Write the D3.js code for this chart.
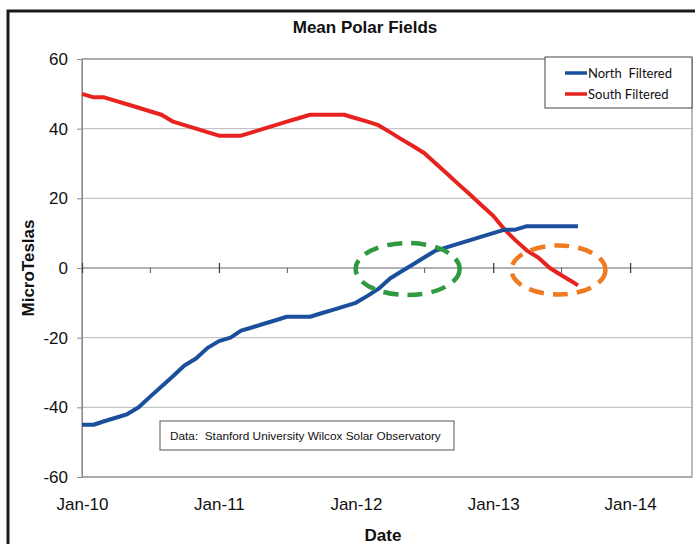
<!DOCTYPE html>
<html>
<head>
<meta charset="utf-8">
<script src="https://cdn.jsdelivr.net/npm/d3@7"></script>
<style>
  body { margin: 0; background: #fff; }
  svg { display: block; }
</style>
</head>
<body>
<script>
(function() {
    var w = 695;
    var h = 544;

    // monthly readings, mid-Aug 2013 is the last one
    var dates = ["2010-01-01","2010-02-01","2010-03-01","2010-04-01","2010-05-01","2010-06-01",
                 "2010-07-01","2010-08-01","2010-09-01","2010-10-01","2010-11-01","2010-12-01",
                 "2011-01-01","2011-02-01","2011-03-01","2011-04-01","2011-05-01","2011-06-01",
                 "2011-07-01","2011-08-01","2011-09-01","2011-10-01","2011-11-01","2011-12-01",
                 "2012-01-01","2012-02-01","2012-03-01","2012-04-01","2012-05-01","2012-06-01",
                 "2012-07-01","2012-08-01","2012-09-01","2012-10-01","2012-11-01","2012-12-01",
                 "2013-01-01","2013-02-01","2013-03-01","2013-04-01","2013-05-01","2013-06-01",
                 "2013-07-01","2013-08-01","2013-08-15"];
    var north = [-45,-45,-44,-43,-42,-40,-37,-34,-31,-28,-26,-23,
                 -21,-20,-18,-17,-16,-15,-14,-14,-14,-13,-12,-11,
                 -10,-8,-6,-3,-1,1,3,5,6,7,8,9,
                 10,11,11,12,12,12,12,12,12];
    var south = [50,49,49,48,47,46,45,44,42,41,40,39,
                 38,38,38,39,40,41,42,43,44,44,44,44,
                 43,42,41,39,37,35,33,30,27,24,21,18,
                 15,11,8,5,3,0,-2,-4,-5];
    var yTicks = [-60, -40, -20, 0, 20, 40, 60];
    var yearTicks = ["2010-01-01","2011-01-01","2012-01-01","2013-01-01","2014-01-01"];
    var halfTicks = ["2010-07-01","2011-07-01","2012-07-01","2013-07-01"];
    var seriesNames = ["North  Filtered", "South Filtered"];

    var parse = d3.timeParse("%Y-%m-%d");
    var left = 82, right = 692, top = 59, bottom = 477;

    var svg = d3.select("body").append("svg")
        .attr("width", w)
        .attr("height", h);

    // outer frame (left + top edges only show)
    svg.append("path")
        .attr("d", "M8,544 L8,11 L695,11")
        .attr("fill", "none")
        .attr("stroke", "#1a1a1a")
        .attr("stroke-width", 3);

    var x = d3.scaleTime()
        .domain([parse("2010-01-01"), parse("2014-06-15")])
        .range([left, right]);
    var y = d3.scaleLinear()
        .domain([-60, 60])
        .range([bottom, top]);

    // gridlines
    svg.append("g").selectAll("line")
        .data(yTicks.filter(function(d) { return d != 0; }))
        .enter().append("line")
        .attr("x1", left).attr("x2", right)
        .attr("y1", function(d) { return y(d); })
        .attr("y2", function(d) { return y(d); })
        .attr("stroke", "#b8b8b8")
        .attr("stroke-width", 1);

    // plot border
    svg.append("rect")
        .attr("x", left).attr("y", top)
        .attr("width", right - left).attr("height", bottom - top)
        .attr("fill", "none")
        .attr("stroke", "#8a8a8a")
        .attr("stroke-width", 1.2);

    // y axis (plain hyphen for negatives, like the original)
    var yAxis = svg.append("g")
        .attr("transform", "translate(" + left + ",0)")
        .call(d3.axisLeft(y).tickValues(yTicks).tickSize(5).tickPadding(9)
            .tickFormat(function(d) { return String(d); }));
    yAxis.select(".domain").attr("stroke", "#8a8a8a");
    yAxis.selectAll(".tick line").attr("stroke", "#8a8a8a");
    yAxis.selectAll("text")
        .attr("font-family", "'Liberation Sans', Arial, sans-serif")
        .attr("font-size", 17)
        .attr("fill", "#111");

    // x labels along the bottom
    var xAxis = svg.append("g")
        .attr("transform", "translate(0," + bottom + ")")
        .call(d3.axisBottom(x)
            .tickValues(yearTicks.map(parse))
            .tickSize(0).tickPadding(21)
            .tickFormat(d3.timeFormat("%b-%y")));
    xAxis.select(".domain").remove();
    xAxis.selectAll("text")
        .attr("font-family", "'Liberation Sans', Arial, sans-serif")
        .attr("font-size", 17)
        .attr("fill", "#111");

    // zero line with ticks
    var zero = svg.append("g")
        .attr("transform", "translate(0," + y(0) + ")")
        .call(d3.axisBottom(x)
            .tickValues(yearTicks.map(parse).filter(function(d) { return x(d) < right; }))
            .tickSize(5).tickFormat(""));
    zero.select(".domain").attr("d", "M" + left + ",0H" + right).attr("stroke", "#666");
    zero.selectAll(".tick line").attr("y1", -5).attr("stroke", "#444").attr("stroke-width", 1.3);

    var minor = svg.append("g")
        .attr("transform", "translate(0," + y(0) + ")")
        .call(d3.axisBottom(x).tickValues(halfTicks.map(parse)).tickSize(5).tickFormat(""));
    minor.select(".domain").remove();
    minor.selectAll(".tick line").attr("stroke", "#555");

    // series
    var line = d3.line()
        .x(function(d) { return x(d[0]); })
        .y(function(d) { return y(d[1]); });

    var ptsN = dates.map(function(d, i) { return [parse(d), north[i]]; });
    var ptsS = dates.map(function(d, i) { return [parse(d), south[i]]; });

    svg.append("path")
        .attr("d", line(ptsS))
        .attr("fill", "none")
        .attr("stroke", "#e8231f")
        .attr("stroke-width", 4)
        .attr("stroke-linejoin", "round");

    svg.append("path")
        .attr("d", line(ptsN))
        .attr("fill", "none")
        .attr("stroke", "#1b4f9c")
        .attr("stroke-width", 4)
        .attr("stroke-linejoin", "round");

    // dashed ellipses around the zero crossings
    svg.append("ellipse")
        .attr("cx", x(parse("2012-05-18"))).attr("cy", y(0) + 1)
        .attr("rx", 52).attr("ry", 26)
        .attr("fill", "none")
        .attr("stroke", "#2f9a3f")
        .attr("stroke-width", 4.5)
        .attr("stroke-dasharray", "15,9");

    svg.append("ellipse")
        .attr("cx", x(parse("2013-06-24"))).attr("cy", y(0) + 2)
        .attr("rx", 47).attr("ry", 24.5)
        .attr("fill", "none")
        .attr("stroke", "#f07a22")
        .attr("stroke-width", 4.5)
        .attr("stroke-dasharray", "15,9");

    // legend
    svg.append("rect")
        .attr("x", 545).attr("y", 57)
        .attr("width", right - 545).attr("height", 51)
        .attr("fill", "#fff")
        .attr("stroke", "#444")
        .attr("stroke-width", 1);

    var legColors = ["#1b4f9c", "#e8231f"];
    var leg = svg.selectAll(".leg")
        .data(seriesNames)
        .enter().append("g")
        .attr("transform", function(d, i) { return "translate(565," + (73 + i * 21) + ")"; });
    leg.append("line")
        .attr("x1", 0).attr("x2", 22)
        .attr("stroke", function(d, i) { return legColors[i]; })
        .attr("stroke-width", 3.5);
    leg.append("text")
        .attr("x", 23).attr("y", 4.5)
        .attr("font-family", "Lato, 'Open Sans', sans-serif")
        .attr("font-size", 13)
        .attr("fill", "#111")
        .style("white-space", "pre")
        .text(function(d) { return d; });

    // source note
    svg.append("rect")
        .attr("x", 160).attr("y", 421)
        .attr("width", 294).attr("height", 29)
        .attr("fill", "#fff")
        .attr("stroke", "#555")
        .attr("stroke-width", 1);
    svg.append("text")
        .attr("x", 170).attr("y", 440)
        .attr("font-family", "'Liberation Sans', Arial, sans-serif")
        .attr("font-size", 11.8)
        .attr("fill", "#111")
        .style("white-space", "pre")
        .text("Data:  Stanford University Wilcox Solar Observatory");

    // titles
    svg.append("text")
        .attr("x", 365).attr("y", 33)
        .attr("text-anchor", "middle")
        .attr("font-family", "'Liberation Sans', Arial, sans-serif")
        .attr("font-weight", "bold")
        .attr("font-size", 17)
        .attr("fill", "#111")
        .text("Mean Polar Fields");

    svg.append("text")
        .attr("transform", "translate(34,268) rotate(-90)")
        .attr("text-anchor", "middle")
        .attr("font-family", "'Liberation Sans', Arial, sans-serif")
        .attr("font-weight", "bold")
        .attr("font-size", 17)
        .attr("fill", "#111")
        .text("MicroTeslas");

    svg.append("text")
        .attr("x", 383).attr("y", 541)
        .attr("text-anchor", "middle")
        .attr("font-family", "'Liberation Sans', Arial, sans-serif")
        .attr("font-weight", "bold")
        .attr("font-size", 17)
        .attr("fill", "#111")
        .text("Date");
})();
</script>
</body>
</html>
